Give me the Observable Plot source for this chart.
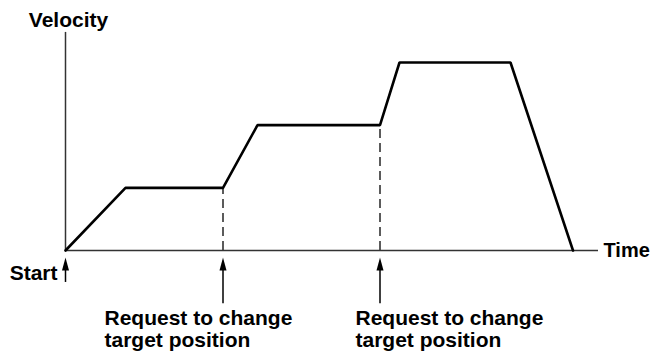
<!DOCTYPE html>
<html>
<head>
<meta charset="utf-8">
<script src="https://cdn.jsdelivr.net/npm/d3@7"></script>
<script src="https://cdn.jsdelivr.net/npm/@observablehq/plot@0.6"></script>
<style>
  html, body { margin: 0; padding: 0; background: #fff; }
  #chart svg { display: block; }
</style>
</head>
<body>
<div id="chart"></div>
<script>
// Velocity profile (time in arbitrary units, velocity in speed levels)
const times = [0, 6.0, 15.75, 19.2, 31.45, 33.4, 44.5, 50.75];
const velocities = [0, 1, 1, 2, 2, 3, 3, 0];

// Requests to change the target position
const requestTimes = [15.75, 31.45];
const requestLevels = [1, 2];
const requestLabel = "Request to change\ntarget position";
const requestLabelTimes = [3.9, 29.0];

// Axes extents and labels
const timeAxisEnd = 53.3;
const velocityAxisEnd = 3.48;
const xTitle = "Time";
const yTitle = "Velocity";
const startLabel = "Start";

// Arrows below the time axis (tip / tail in velocity units)
const arrowTip = -0.11;
const startArrowTail = -0.51;
const requestArrowTail = -0.85;

const profile = times.map((t, i) => ({t, v: velocities[i]}));
const requests = requestTimes.map((t, i) => ({t, v: requestLevels[i], lx: requestLabelTimes[i]}));
const arrows = [{t: 0, tail: startArrowTail}, ...requestTimes.map(t => ({t, tail: requestArrowTail}))];

const arrowHead = {
  draw(ctx) {
    ctx.moveTo(0, 0);
    ctx.lineTo(-3.5, 13);
    ctx.lineTo(3.5, 13);
    ctx.closePath();
  }
};

const font = "'Liberation Sans', Arial, Helvetica, sans-serif";
const fs = 21;

const chart = Plot.plot({
  width: 651,
  height: 356,
  margin: 0,
  x: {domain: [0, 53.3], range: [65, 598], axis: null},
  y: {domain: [0, 3], range: [250, 62], axis: null},
  style: {fontFamily: font, background: "#fff", overflow: "visible"},
  marks: [
    // axes
    Plot.ruleY([0], {x1: 0, x2: timeAxisEnd, stroke: "#333", strokeWidth: 1.5}),
    Plot.ruleX([0], {y1: 0, y2: velocityAxisEnd, stroke: "#333", strokeWidth: 1.5}),
    // dashed guides
    Plot.ruleX(requests, {x: "t", y1: 0, y2: "v", stroke: "#333", strokeWidth: 1.6, strokeDasharray: "9,5"}),
    // profile
    Plot.line(profile, {x: "t", y: "v", stroke: "#000", strokeWidth: 2.6, strokeLinejoin: "miter", curve: "linear"}),
    // arrows
    Plot.ruleX(arrows, {x: "t", y1: "tail", y2: arrowTip - 0.16, stroke: "#000", strokeWidth: 1.5}),
    Plot.dot(arrows, {x: "t", y: arrowTip, symbol: arrowHead, fill: "#000", stroke: "none", r: 4}),
    // texts
    Plot.text([yTitle], {x: 0, y: velocityAxisEnd, text: d => d, dx: 3, dy: -12, fontSize: fs, fontWeight: "bold", fill: "#000", textAnchor: "middle"}),
    Plot.text([xTitle], {x: timeAxisEnd, y: 0, text: d => d, dx: 5, dy: 0, fontSize: 20, fontWeight: "bold", fill: "#000", textAnchor: "start"}),
    Plot.text([startLabel], {x: 0, y: 0, text: d => d, dx: -8, dy: 23, fontSize: fs, fontWeight: "bold", fill: "#000", textAnchor: "end"}),
    Plot.text(requests, {x: "lx", y: 0, text: () => requestLabel, dy: 59, fontSize: fs, fontWeight: "bold", fill: "#000", textAnchor: "start", lineAnchor: "top", lineHeight: 1.05})
  ]
});

document.getElementById("chart").appendChild(chart);
</script>
</body>
</html>
